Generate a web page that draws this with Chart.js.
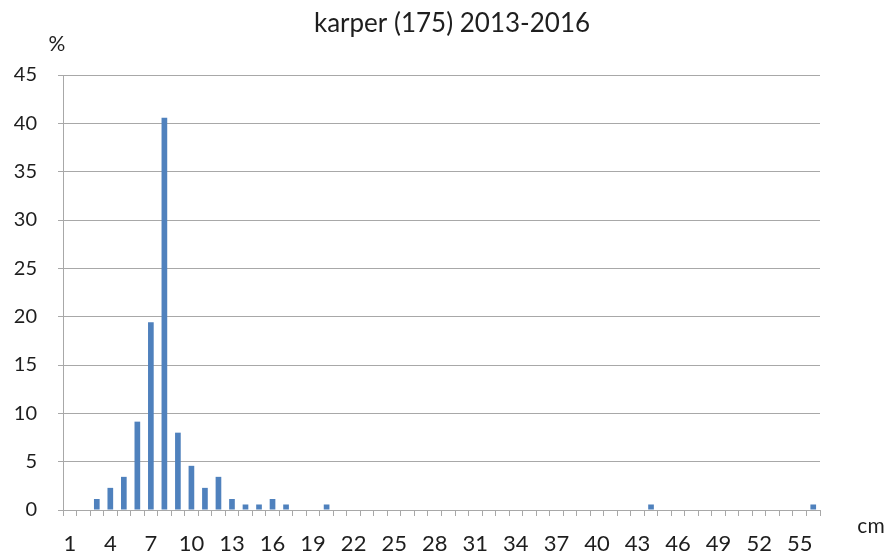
<!DOCTYPE html>
<html>
<head>
<meta charset="utf-8">
<script src="https://cdn.jsdelivr.net/npm/chart.js@4.4.1/dist/chart.umd.min.js"></script>
<style>
  html, body { margin: 0; padding: 0; background: #fff; }
  #wrap { width: 892px; height: 557px; }
</style>
</head>
<body>
<div id="wrap"><canvas id="c" width="892" height="557"></canvas></div>
<script>
// Length classes in cm (1..56)
const lengthsCm = Array.from({ length: 56 }, (_, i) => String(i + 1));

// Share of the 175 carp caught per length class, in %
const sharePercent = {
  3: 1.14, 4: 2.29, 5: 3.43, 6: 9.14, 7: 19.43, 8: 40.57, 9: 8.0,
  10: 4.57, 11: 2.29, 12: 3.43, 13: 1.14, 14: 0.57, 15: 0.57, 16: 1.14,
  17: 0.57, 20: 0.57, 44: 0.57, 56: 0.57
};
const values = lengthsCm.map(cm => sharePercent[cm] ?? 0);

// Only every third length class carries a label
const labelEvery = 3;
const yTicks = [0, 5, 10, 15, 20, 25, 30, 35, 40, 45];

const titleText = 'karper (175) 2013-2016';
const yUnit = '%';
const xUnit = 'cm';

const FONT = 'Lato, "Open Sans", sans-serif';
const TEXT = '#1e1e1e';
const GRID = '#a8a8a8';

const annotations = {
  id: 'annotations',
  afterDraw(chart) {
    const { ctx } = chart;
    ctx.save();
    ctx.fillStyle = TEXT;
    ctx.textBaseline = 'middle';
    ctx.textAlign = 'center';
    ctx.font = '26px ' + FONT;
    ctx.fillText(titleText, 452, 24);
    ctx.font = '21px ' + FONT;
    ctx.fillText(yUnit, 57, 44);
    ctx.fillText(xUnit, 871, 526);
    ctx.restore();
  }
};

new Chart(document.getElementById('c'), {
  type: 'bar',
  data: {
    labels: lengthsCm,
    datasets: [{
      data: values,
      backgroundColor: '#4f81bd',
      borderWidth: 0,
      categoryPercentage: 1,
      barPercentage: 0.42
    }]
  },
  options: {
    responsive: false,
    animation: false,
    layout: { padding: { top: 75, right: 72, bottom: 0, left: 0 } },
    plugins: {
      legend: { display: false },
      tooltip: { enabled: false },
      title: { display: false }
    },
    scales: {
      x: {
        offset: true,
        afterFit(scale) { scale.height = 47; },
        grid: {
          offset: true,
          drawOnChartArea: false,
          drawTicks: true,
          tickLength: 6,
          color: GRID
        },
        border: { color: GRID, width: 1 },
        ticks: {
          autoSkip: false,
          maxRotation: 0,
          padding: 15,
          color: TEXT,
          font: { family: FONT, size: 22 },
          callback(value, index) {
            return index % labelEvery === 0 ? lengthsCm[index] : '';
          }
        }
      },
      y: {
        min: 0,
        max: 45,
        afterFit(scale) { scale.width = 63; },
        afterBuildTicks(scale) { scale.ticks = yTicks.map(v => ({ value: v })); },
        grid: {
          color: GRID,
          tickLength: 5,
          drawTicks: true
        },
        border: { color: GRID, width: 1 },
        ticks: {
          padding: 21,
          color: TEXT,
          font: { family: FONT, size: 20 }
        }
      }
    }
  },
  plugins: [annotations]
});
</script>
</body>
</html>
